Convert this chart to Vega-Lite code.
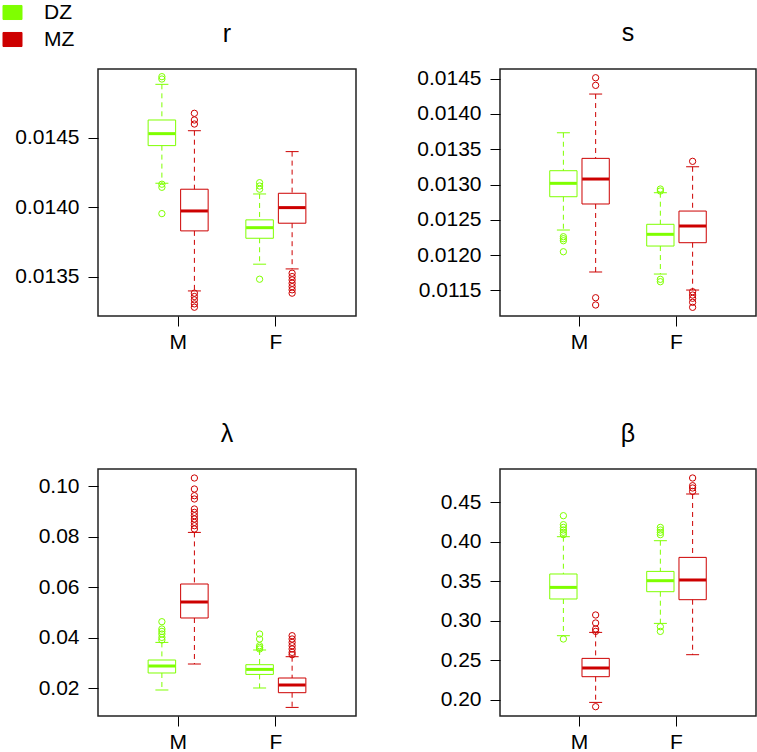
{
  "$schema": "https://vega.github.io/schema/vega-lite/v6.json",
  "padding": 0,
  "background": "white",
  "datasets": {
    "box": [
      {"panel": "r", "sex": "M", "zyg": "DZ", "lower": 0.014173, "q1": 0.014443, "median": 0.014529, "q3": 0.014627, "upper": 0.014883},
      {"panel": "r", "sex": "M", "zyg": "MZ", "lower": 0.0134, "q1": 0.013831, "median": 0.013974, "q3": 0.01413, "upper": 0.01455},
      {"panel": "r", "sex": "F", "zyg": "DZ", "lower": 0.013592, "q1": 0.013778, "median": 0.013854, "q3": 0.01391, "upper": 0.014096},
      {"panel": "r", "sex": "F", "zyg": "MZ", "lower": 0.013558, "q1": 0.013886, "median": 0.013998, "q3": 0.014101, "upper": 0.0144},
      {"panel": "s", "sex": "M", "zyg": "DZ", "lower": 0.012355, "q1": 0.012827, "median": 0.013017, "q3": 0.013196, "upper": 0.013734},
      {"panel": "s", "sex": "M", "zyg": "MZ", "lower": 0.01176, "q1": 0.012724, "median": 0.013078, "q3": 0.013371, "upper": 0.014283},
      {"panel": "s", "sex": "F", "zyg": "DZ", "lower": 0.011731, "q1": 0.012128, "median": 0.012294, "q3": 0.012436, "upper": 0.012884},
      {"panel": "s", "sex": "F", "zyg": "MZ", "lower": 0.011504, "q1": 0.012175, "median": 0.012412, "q3": 0.012624, "upper": 0.013252},
      {"panel": "lambda", "sex": "M", "zyg": "DZ", "lower": 0.01937, "q1": 0.02609, "median": 0.02885, "q3": 0.03122, "upper": 0.03818},
      {"panel": "lambda", "sex": "M", "zyg": "MZ", "lower": 0.02964, "q1": 0.04783, "median": 0.05415, "q3": 0.06126, "upper": 0.08166},
      {"panel": "lambda", "sex": "F", "zyg": "DZ", "lower": 0.02016, "q1": 0.02553, "median": 0.02751, "q3": 0.02937, "upper": 0.03518},
      {"panel": "lambda", "sex": "F", "zyg": "MZ", "lower": 0.01249, "q1": 0.0183, "median": 0.02134, "q3": 0.02411, "upper": 0.03253},
      {"panel": "beta", "sex": "M", "zyg": "DZ", "lower": 0.28114, "q1": 0.32763, "median": 0.34232, "q3": 0.3593, "upper": 0.40655},
      {"panel": "beta", "sex": "M", "zyg": "MZ", "lower": 0.19664, "q1": 0.2292, "median": 0.24022, "q3": 0.25238, "upper": 0.28532},
      {"panel": "beta", "sex": "F", "zyg": "DZ", "lower": 0.29672, "q1": 0.33687, "median": 0.35081, "q3": 0.36259, "upper": 0.40148},
      {"panel": "beta", "sex": "F", "zyg": "MZ", "lower": 0.25707, "q1": 0.32674, "median": 0.3517, "q3": 0.38033, "upper": 0.46064}
    ],
    "out": [
      {"panel": "r", "sex": "M", "zyg": "DZ", "value": 0.014938},
      {"panel": "r", "sex": "M", "zyg": "DZ", "value": 0.014921},
      {"panel": "r", "sex": "M", "zyg": "DZ", "value": 0.014166},
      {"panel": "r", "sex": "M", "zyg": "DZ", "value": 0.014144},
      {"panel": "r", "sex": "M", "zyg": "DZ", "value": 0.013955},
      {"panel": "r", "sex": "M", "zyg": "MZ", "value": 0.014675},
      {"panel": "r", "sex": "M", "zyg": "MZ", "value": 0.014627},
      {"panel": "r", "sex": "M", "zyg": "MZ", "value": 0.014598},
      {"panel": "r", "sex": "M", "zyg": "MZ", "value": 0.013384},
      {"panel": "r", "sex": "M", "zyg": "MZ", "value": 0.01336},
      {"panel": "r", "sex": "M", "zyg": "MZ", "value": 0.013336},
      {"panel": "r", "sex": "M", "zyg": "MZ", "value": 0.013307},
      {"panel": "r", "sex": "M", "zyg": "MZ", "value": 0.013283},
      {"panel": "r", "sex": "F", "zyg": "DZ", "value": 0.014177},
      {"panel": "r", "sex": "F", "zyg": "DZ", "value": 0.014153},
      {"panel": "r", "sex": "F", "zyg": "DZ", "value": 0.01413},
      {"panel": "r", "sex": "F", "zyg": "DZ", "value": 0.013484},
      {"panel": "r", "sex": "F", "zyg": "MZ", "value": 0.013527},
      {"panel": "r", "sex": "F", "zyg": "MZ", "value": 0.013503},
      {"panel": "r", "sex": "F", "zyg": "MZ", "value": 0.013479},
      {"panel": "r", "sex": "F", "zyg": "MZ", "value": 0.013455},
      {"panel": "r", "sex": "F", "zyg": "MZ", "value": 0.013431},
      {"panel": "r", "sex": "F", "zyg": "MZ", "value": 0.013408},
      {"panel": "r", "sex": "F", "zyg": "MZ", "value": 0.013384},
      {"panel": "s", "sex": "M", "zyg": "DZ", "value": 0.01226},
      {"panel": "s", "sex": "M", "zyg": "DZ", "value": 0.012232},
      {"panel": "s", "sex": "M", "zyg": "DZ", "value": 0.012203},
      {"panel": "s", "sex": "M", "zyg": "DZ", "value": 0.012047},
      {"panel": "s", "sex": "M", "zyg": "MZ", "value": 0.014514},
      {"panel": "s", "sex": "M", "zyg": "MZ", "value": 0.014406},
      {"panel": "s", "sex": "M", "zyg": "MZ", "value": 0.011395},
      {"panel": "s", "sex": "M", "zyg": "MZ", "value": 0.011292},
      {"panel": "s", "sex": "F", "zyg": "DZ", "value": 0.012936},
      {"panel": "s", "sex": "F", "zyg": "DZ", "value": 0.012908},
      {"panel": "s", "sex": "F", "zyg": "DZ", "value": 0.011656},
      {"panel": "s", "sex": "F", "zyg": "DZ", "value": 0.011622},
      {"panel": "s", "sex": "F", "zyg": "MZ", "value": 0.013329},
      {"panel": "s", "sex": "F", "zyg": "MZ", "value": 0.01148},
      {"panel": "s", "sex": "F", "zyg": "MZ", "value": 0.011433},
      {"panel": "s", "sex": "F", "zyg": "MZ", "value": 0.011387},
      {"panel": "s", "sex": "F", "zyg": "MZ", "value": 0.01133},
      {"panel": "s", "sex": "F", "zyg": "MZ", "value": 0.011259},
      {"panel": "lambda", "sex": "M", "zyg": "DZ", "value": 0.04636},
      {"panel": "lambda", "sex": "M", "zyg": "DZ", "value": 0.04348},
      {"panel": "lambda", "sex": "M", "zyg": "DZ", "value": 0.04253},
      {"panel": "lambda", "sex": "M", "zyg": "DZ", "value": 0.0415},
      {"panel": "lambda", "sex": "M", "zyg": "DZ", "value": 0.04016},
      {"panel": "lambda", "sex": "M", "zyg": "DZ", "value": 0.03913},
      {"panel": "lambda", "sex": "M", "zyg": "MZ", "value": 0.10316},
      {"panel": "lambda", "sex": "M", "zyg": "MZ", "value": 0.09881},
      {"panel": "lambda", "sex": "M", "zyg": "MZ", "value": 0.09617},
      {"panel": "lambda", "sex": "M", "zyg": "MZ", "value": 0.09486},
      {"panel": "lambda", "sex": "M", "zyg": "MZ", "value": 0.09091},
      {"panel": "lambda", "sex": "M", "zyg": "MZ", "value": 0.08957},
      {"panel": "lambda", "sex": "M", "zyg": "MZ", "value": 0.08826},
      {"panel": "lambda", "sex": "M", "zyg": "MZ", "value": 0.08696},
      {"panel": "lambda", "sex": "M", "zyg": "MZ", "value": 0.08561},
      {"panel": "lambda", "sex": "M", "zyg": "MZ", "value": 0.08431},
      {"panel": "lambda", "sex": "M", "zyg": "MZ", "value": 0.083},
      {"panel": "lambda", "sex": "F", "zyg": "DZ", "value": 0.0415},
      {"panel": "lambda", "sex": "F", "zyg": "DZ", "value": 0.03953},
      {"panel": "lambda", "sex": "F", "zyg": "DZ", "value": 0.03688},
      {"panel": "lambda", "sex": "F", "zyg": "DZ", "value": 0.0362},
      {"panel": "lambda", "sex": "F", "zyg": "DZ", "value": 0.03557},
      {"panel": "lambda", "sex": "F", "zyg": "MZ", "value": 0.04083},
      {"panel": "lambda", "sex": "F", "zyg": "MZ", "value": 0.03953},
      {"panel": "lambda", "sex": "F", "zyg": "MZ", "value": 0.03818},
      {"panel": "lambda", "sex": "F", "zyg": "MZ", "value": 0.03688},
      {"panel": "lambda", "sex": "F", "zyg": "MZ", "value": 0.03557},
      {"panel": "lambda", "sex": "F", "zyg": "MZ", "value": 0.03423},
      {"panel": "lambda", "sex": "F", "zyg": "MZ", "value": 0.03332},
      {"panel": "beta", "sex": "M", "zyg": "DZ", "value": 0.43315},
      {"panel": "beta", "sex": "M", "zyg": "DZ", "value": 0.42175},
      {"panel": "beta", "sex": "M", "zyg": "DZ", "value": 0.41833},
      {"panel": "beta", "sex": "M", "zyg": "DZ", "value": 0.41504},
      {"panel": "beta", "sex": "M", "zyg": "DZ", "value": 0.412},
      {"panel": "beta", "sex": "M", "zyg": "DZ", "value": 0.40908},
      {"panel": "beta", "sex": "M", "zyg": "DZ", "value": 0.27695},
      {"panel": "beta", "sex": "M", "zyg": "MZ", "value": 0.30736},
      {"panel": "beta", "sex": "M", "zyg": "MZ", "value": 0.29722},
      {"panel": "beta", "sex": "M", "zyg": "MZ", "value": 0.28962},
      {"panel": "beta", "sex": "M", "zyg": "MZ", "value": 0.28658},
      {"panel": "beta", "sex": "M", "zyg": "MZ", "value": 0.1912},
      {"panel": "beta", "sex": "F", "zyg": "DZ", "value": 0.41833},
      {"panel": "beta", "sex": "F", "zyg": "DZ", "value": 0.41504},
      {"panel": "beta", "sex": "F", "zyg": "DZ", "value": 0.412},
      {"panel": "beta", "sex": "F", "zyg": "DZ", "value": 0.40908},
      {"panel": "beta", "sex": "F", "zyg": "DZ", "value": 0.29254},
      {"panel": "beta", "sex": "F", "zyg": "DZ", "value": 0.28658},
      {"panel": "beta", "sex": "F", "zyg": "MZ", "value": 0.48091},
      {"panel": "beta", "sex": "F", "zyg": "MZ", "value": 0.47116},
      {"panel": "beta", "sex": "F", "zyg": "MZ", "value": 0.46824},
      {"panel": "beta", "sex": "F", "zyg": "MZ", "value": 0.46393}
    ]
  },
  "columns": 2,
  "spacing": {"row": 64, "column": 45},
  "concat": [
    {
      "title": {"text": "r"},
      "width": 258, "height": 247,
      "encoding": {
        "x": {"field": "sex", "type": "nominal", "title": null, "sort": ["M", "F"], "scale": {"domain": ["M", "F"], "paddingInner": 0, "paddingOuter": 0.32}},
        "xOffset": {"field": "zyg", "type": "nominal", "scale": {"domain": ["DZ", "MZ"], "paddingInner": 0.154, "paddingOuter": 0.58}},
        "color": {"field": "zyg", "type": "nominal", "title": null, "scale": {"domain": ["DZ", "MZ"], "range": ["#7FFF00", "#CD0000"]}, "legend": null}
      },
      "layer": [
        {"data": {"name": "box"}, "transform": [{"filter": "datum.panel === 'r'"}], "mark": {"type": "tick", "size": 27, "thickness": 3, "opacity": 1},
          "encoding": {"y": {"field": "median", "type": "quantitative", "title": null, "scale": {"domain": [0.01322, 0.014993], "nice": false, "zero": false}, "axis": {"values": [0.0135, 0.014, 0.0145], "format": ".4f"}},
            "color": {"field": "zyg", "type": "nominal", "title": null, "scale": {"domain": ["DZ", "MZ"], "range": ["#7FFF00", "#CD0000"]},
              "legend": {"orient": "none", "legendX": -98, "legendY": -69, "symbolType": "M-1,-0.74H1V0.74H-1Z", "symbolSize": 361, "symbolStrokeColor": "black", "symbolStrokeWidth": 1, "symbolOpacity": 1, "labelFontSize": 21, "labelOffset": 21, "rowPadding": 5, "padding": 2,
                "encode": {"symbols": {"update": {"stroke": {"value": "black"}, "strokeWidth": {"value": 1}}}}}}}},
        {"data": {"name": "box"}, "transform": [{"filter": "datum.panel === 'r'"}], "mark": {"type": "rule", "strokeDash": [5, 4], "strokeWidth": 1},
          "encoding": {"y": {"field": "upper", "type": "quantitative", "title": null}, "y2": {"field": "q3"}}},
        {"data": {"name": "box"}, "transform": [{"filter": "datum.panel === 'r'"}], "mark": {"type": "rule", "strokeDash": [5, 4], "strokeWidth": 1},
          "encoding": {"y": {"field": "q1", "type": "quantitative", "title": null}, "y2": {"field": "lower"}}},
        {"data": {"name": "box"}, "transform": [{"filter": "datum.panel === 'r'"}], "mark": {"type": "bar", "filled": false, "strokeWidth": 1},
          "encoding": {"y": {"field": "q1", "type": "quantitative", "title": null}, "y2": {"field": "q3"}}},
        {"data": {"name": "box"}, "transform": [{"filter": "datum.panel === 'r'"}], "mark": {"type": "tick", "size": 13, "thickness": 1, "opacity": 1},
          "encoding": {"y": {"field": "upper", "type": "quantitative", "title": null}}},
        {"data": {"name": "box"}, "transform": [{"filter": "datum.panel === 'r'"}], "mark": {"type": "tick", "size": 13, "thickness": 1, "opacity": 1},
          "encoding": {"y": {"field": "lower", "type": "quantitative", "title": null}}},
        {"data": {"name": "out"}, "transform": [{"filter": "datum.panel === 'r'"}], "mark": {"type": "point", "filled": false, "size": 40, "strokeWidth": 1, "opacity": 1},
          "encoding": {"y": {"field": "value", "type": "quantitative", "title": null}}}
      ]
    },
    {
      "title": {"text": "s"},
      "width": 256, "height": 247,
      "encoding": {
        "x": {"field": "sex", "type": "nominal", "title": null, "sort": ["M", "F"], "scale": {"domain": ["M", "F"], "paddingInner": 0, "paddingOuter": 0.32}},
        "xOffset": {"field": "zyg", "type": "nominal", "scale": {"domain": ["DZ", "MZ"], "paddingInner": 0.154, "paddingOuter": 0.58}},
        "color": {"field": "zyg", "type": "nominal", "title": null, "scale": {"domain": ["DZ", "MZ"], "range": ["#7FFF00", "#CD0000"]}, "legend": null}
      },
      "layer": [
        {"data": {"name": "box"}, "transform": [{"filter": "datum.panel === 's'"}], "mark": {"type": "rule", "strokeDash": [5, 4], "strokeWidth": 1},
          "encoding": {"y": {"field": "upper", "type": "quantitative", "title": null, "scale": {"domain": [0.011136, 0.014638], "nice": false, "zero": false}, "axis": {"values": [0.0115, 0.012, 0.0125, 0.013, 0.0135, 0.014, 0.0145], "format": ".4f"}}, "y2": {"field": "q3"}}},
        {"data": {"name": "box"}, "transform": [{"filter": "datum.panel === 's'"}], "mark": {"type": "rule", "strokeDash": [5, 4], "strokeWidth": 1},
          "encoding": {"y": {"field": "q1", "type": "quantitative", "title": null}, "y2": {"field": "lower"}}},
        {"data": {"name": "box"}, "transform": [{"filter": "datum.panel === 's'"}], "mark": {"type": "bar", "filled": false, "strokeWidth": 1},
          "encoding": {"y": {"field": "q1", "type": "quantitative", "title": null}, "y2": {"field": "q3"}}},
        {"data": {"name": "box"}, "transform": [{"filter": "datum.panel === 's'"}], "mark": {"type": "tick", "size": 13, "thickness": 1, "opacity": 1},
          "encoding": {"y": {"field": "upper", "type": "quantitative", "title": null}}},
        {"data": {"name": "box"}, "transform": [{"filter": "datum.panel === 's'"}], "mark": {"type": "tick", "size": 13, "thickness": 1, "opacity": 1},
          "encoding": {"y": {"field": "lower", "type": "quantitative", "title": null}}},
        {"data": {"name": "box"}, "transform": [{"filter": "datum.panel === 's'"}], "mark": {"type": "tick", "size": 27, "thickness": 3, "opacity": 1},
          "encoding": {"y": {"field": "median", "type": "quantitative", "title": null}}},
        {"data": {"name": "out"}, "transform": [{"filter": "datum.panel === 's'"}], "mark": {"type": "point", "filled": false, "size": 40, "strokeWidth": 1, "opacity": 1},
          "encoding": {"y": {"field": "value", "type": "quantitative", "title": null}}}
      ]
    },
    {
      "title": {"text": "λ"},
      "width": 258, "height": 247,
      "encoding": {
        "x": {"field": "sex", "type": "nominal", "title": null, "sort": ["M", "F"], "scale": {"domain": ["M", "F"], "paddingInner": 0, "paddingOuter": 0.32}},
        "xOffset": {"field": "zyg", "type": "nominal", "scale": {"domain": ["DZ", "MZ"], "paddingInner": 0.154, "paddingOuter": 0.58}},
        "color": {"field": "zyg", "type": "nominal", "title": null, "scale": {"domain": ["DZ", "MZ"], "range": ["#7FFF00", "#CD0000"]}, "legend": null}
      },
      "layer": [
        {"data": {"name": "box"}, "transform": [{"filter": "datum.panel === 'lambda'"}], "mark": {"type": "rule", "strokeDash": [5, 4], "strokeWidth": 1},
          "encoding": {"y": {"field": "upper", "type": "quantitative", "title": null, "scale": {"domain": [0.00909, 0.10672], "nice": false, "zero": false}, "axis": {"values": [0.02, 0.04, 0.06, 0.08, 0.1], "format": ".2f"}}, "y2": {"field": "q3"}}},
        {"data": {"name": "box"}, "transform": [{"filter": "datum.panel === 'lambda'"}], "mark": {"type": "rule", "strokeDash": [5, 4], "strokeWidth": 1},
          "encoding": {"y": {"field": "q1", "type": "quantitative", "title": null}, "y2": {"field": "lower"}}},
        {"data": {"name": "box"}, "transform": [{"filter": "datum.panel === 'lambda'"}], "mark": {"type": "bar", "filled": false, "strokeWidth": 1},
          "encoding": {"y": {"field": "q1", "type": "quantitative", "title": null}, "y2": {"field": "q3"}}},
        {"data": {"name": "box"}, "transform": [{"filter": "datum.panel === 'lambda'"}], "mark": {"type": "tick", "size": 13, "thickness": 1, "opacity": 1},
          "encoding": {"y": {"field": "upper", "type": "quantitative", "title": null}}},
        {"data": {"name": "box"}, "transform": [{"filter": "datum.panel === 'lambda'"}], "mark": {"type": "tick", "size": 13, "thickness": 1, "opacity": 1},
          "encoding": {"y": {"field": "lower", "type": "quantitative", "title": null}}},
        {"data": {"name": "box"}, "transform": [{"filter": "datum.panel === 'lambda'"}], "mark": {"type": "tick", "size": 27, "thickness": 3, "opacity": 1},
          "encoding": {"y": {"field": "median", "type": "quantitative", "title": null}}},
        {"data": {"name": "out"}, "transform": [{"filter": "datum.panel === 'lambda'"}], "mark": {"type": "point", "filled": false, "size": 40, "strokeWidth": 1, "opacity": 1},
          "encoding": {"y": {"field": "value", "type": "quantitative", "title": null}}}
      ]
    },
    {
      "title": {"text": "β"},
      "width": 256, "height": 247,
      "encoding": {
        "x": {"field": "sex", "type": "nominal", "title": null, "sort": ["M", "F"], "scale": {"domain": ["M", "F"], "paddingInner": 0, "paddingOuter": 0.32}},
        "xOffset": {"field": "zyg", "type": "nominal", "scale": {"domain": ["DZ", "MZ"], "paddingInner": 0.154, "paddingOuter": 0.58}},
        "color": {"field": "zyg", "type": "nominal", "title": null, "scale": {"domain": ["DZ", "MZ"], "range": ["#7FFF00", "#CD0000"]}, "legend": null}
      },
      "layer": [
        {"data": {"name": "box"}, "transform": [{"filter": "datum.panel === 'beta'"}], "mark": {"type": "rule", "strokeDash": [5, 4], "strokeWidth": 1},
          "encoding": {"y": {"field": "upper", "type": "quantitative", "title": null, "scale": {"domain": [0.1794, 0.4923], "nice": false, "zero": false}, "axis": {"values": [0.2, 0.25, 0.3, 0.35, 0.4, 0.45], "format": ".2f"}}, "y2": {"field": "q3"}}},
        {"data": {"name": "box"}, "transform": [{"filter": "datum.panel === 'beta'"}], "mark": {"type": "rule", "strokeDash": [5, 4], "strokeWidth": 1},
          "encoding": {"y": {"field": "q1", "type": "quantitative", "title": null}, "y2": {"field": "lower"}}},
        {"data": {"name": "box"}, "transform": [{"filter": "datum.panel === 'beta'"}], "mark": {"type": "bar", "filled": false, "strokeWidth": 1},
          "encoding": {"y": {"field": "q1", "type": "quantitative", "title": null}, "y2": {"field": "q3"}}},
        {"data": {"name": "box"}, "transform": [{"filter": "datum.panel === 'beta'"}], "mark": {"type": "tick", "size": 13, "thickness": 1, "opacity": 1},
          "encoding": {"y": {"field": "upper", "type": "quantitative", "title": null}}},
        {"data": {"name": "box"}, "transform": [{"filter": "datum.panel === 'beta'"}], "mark": {"type": "tick", "size": 13, "thickness": 1, "opacity": 1},
          "encoding": {"y": {"field": "lower", "type": "quantitative", "title": null}}},
        {"data": {"name": "box"}, "transform": [{"filter": "datum.panel === 'beta'"}], "mark": {"type": "tick", "size": 27, "thickness": 3, "opacity": 1},
          "encoding": {"y": {"field": "median", "type": "quantitative", "title": null}}},
        {"data": {"name": "out"}, "transform": [{"filter": "datum.panel === 'beta'"}], "mark": {"type": "point", "filled": false, "size": 40, "strokeWidth": 1, "opacity": 1},
          "encoding": {"y": {"field": "value", "type": "quantitative", "title": null}}}
      ]
    }
  ],
  "resolve": {"scale": {"y": "independent", "x": "independent", "xOffset": "independent"}},
  "config": {
    "font": "Liberation Sans",
    "view": {"stroke": "#222222", "strokeWidth": 1.5},
    "title": {"fontSize": 25, "fontWeight": "normal", "color": "black", "offset": 22, "anchor": "middle"},
    "axis": {"grid": false, "domain": false, "ticks": true, "tickColor": "black", "tickSize": 10, "tickWidth": 1, "labelColor": "black", "labelFontSize": 21, "labelFont": "Liberation Sans"},
    "axisY": {"labelPadding": 9, "minExtent": 97, "maxExtent": 97},
    "axisX": {"labelPadding": 5, "labelAngle": 0, "minExtent": 40, "maxExtent": 40},
    "legend": {"labelColor": "black", "labelFont": "Liberation Sans", "symbolStrokeColor": "black"}
  }
}
